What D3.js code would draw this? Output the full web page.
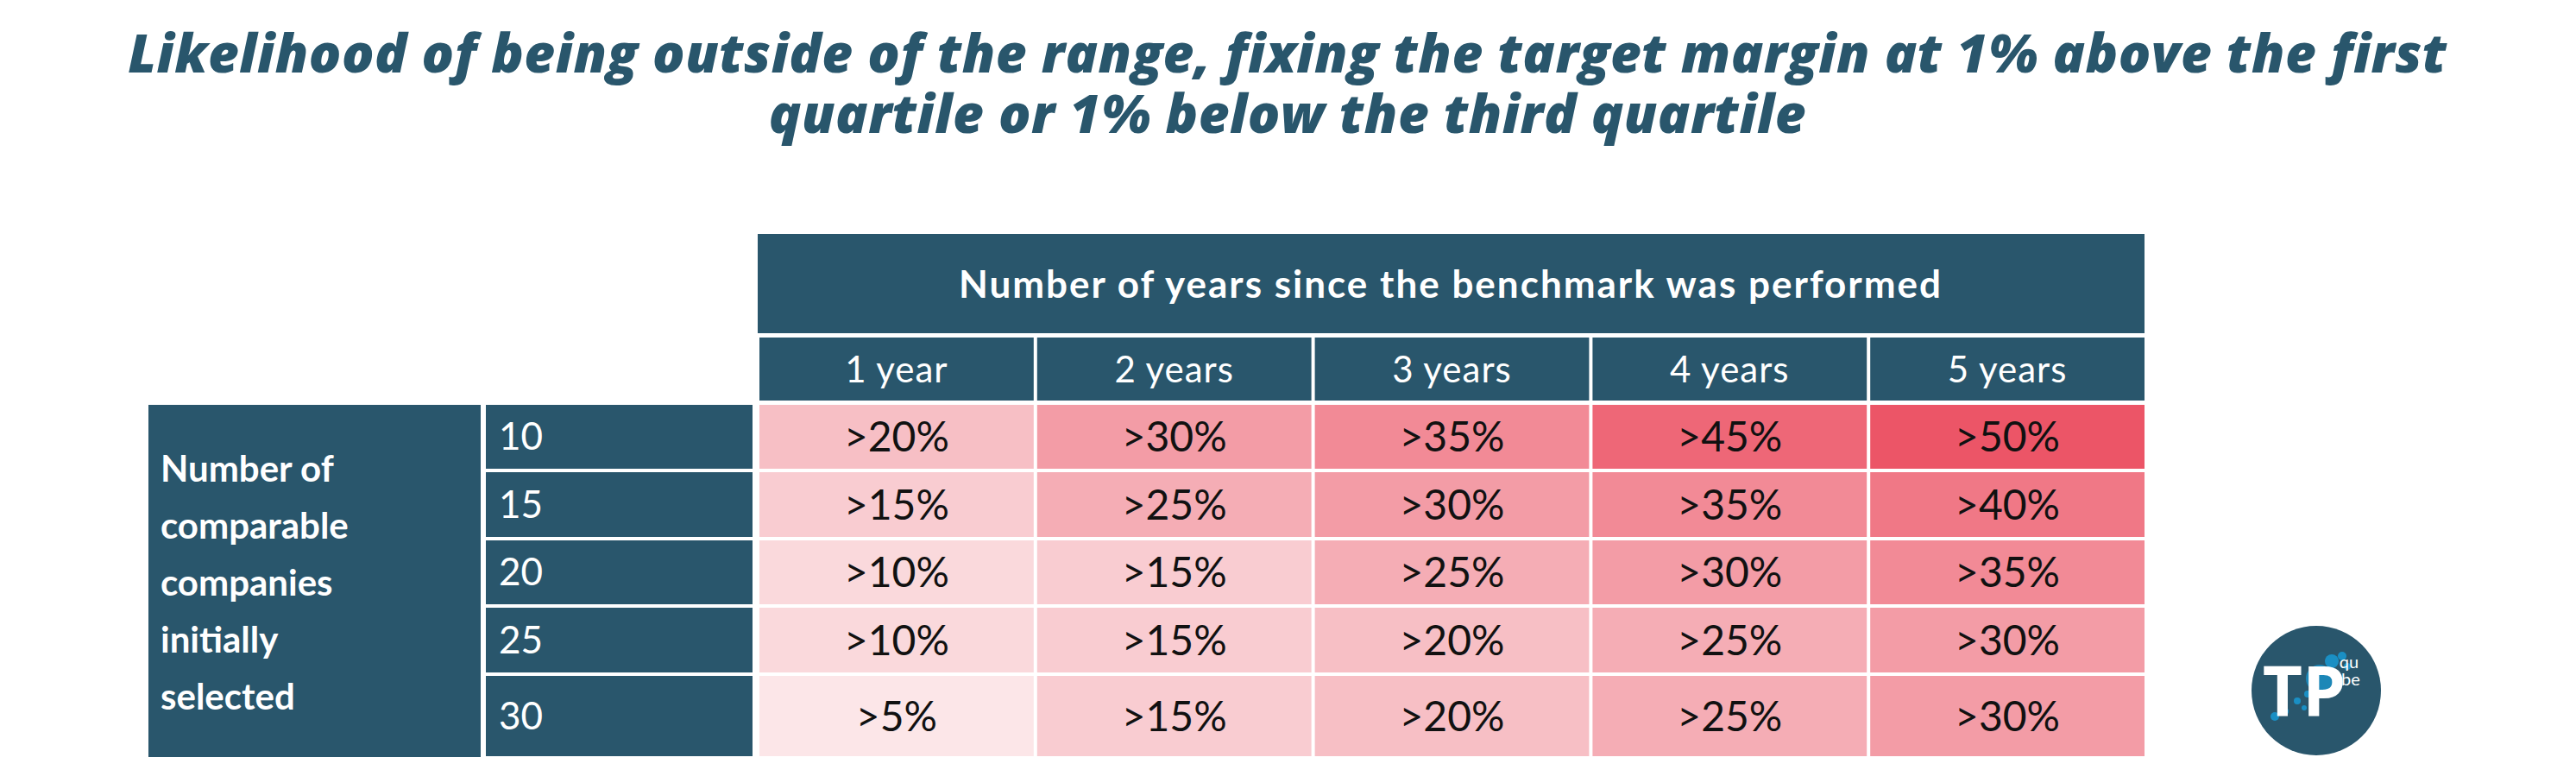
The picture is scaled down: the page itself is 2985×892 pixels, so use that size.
<!DOCTYPE html>
<html><head><meta charset="utf-8">
<script src="https://cdn.jsdelivr.net/npm/d3@7"></script>
<style>body{margin:0;background:#fff}text{font-family:"Lato","Open Sans",sans-serif}</style>
</head><body><svg id="vis" width="2985" height="892"></svg>
<script>
var years = ['1 year','2 years','3 years','4 years','5 years'];
var companies = ['10','15','20','25','30'];
var values = [
  [20,30,35,45,50],
  [15,25,30,35,40],
  [10,15,25,30,35],
  [10,15,20,25,30],
  [5,15,20,25,30]
];
var titleLines = ['Likelihood of being outside of the range, fixing the target margin at 1% above the first',
                  'quartile or 1% below the third quartile'];
var headerText = 'Number of years since the benchmark was performed';
var sideText = ['Number of','comparable','companies','initially','selected'];

var dark = '#29566c';
var svg = d3.select('#vis');

// title
svg.selectAll('text.title').data(titleLines).enter().append('text')
	.attr('x',1492).attr('y',function(d,i){ return 84 +i*70; })
	.attr('text-anchor','middle').attr('fill',dark)
	.style('font-family','"Open Sans"')
	.style('font-size','62px').style('font-weight',800).style('font-style','italic')
	.style('letter-spacing','0.5px')
	.text(function(d){ return d; });

var x = d3.scaleBand().domain(years).range([878,2487]);
var rowTops = [469,547,626,704,783,880];
var color = d3.scaleLinear().domain([5,20,50]).range(['#fce6e8','#f7bfc5','#ec5567']);

// header
svg.append('rect').attr('x',878).attr('y',271).attr('width',1607).attr('height',115).attr('fill',dark);
svg.append('text').attr('x',1681).attr('y',345).attr('text-anchor','middle').attr('fill','#fff')
	.style('font-size','44px').style('font-weight',700).style('letter-spacing','2px').text(headerText);

svg.selectAll('rect.year').data(years).enter().append('rect')
	.attr('x',function(d){ return x(d)+2; }).attr('y',391)
	.attr('width',x.bandwidth()-4).attr('height',73).attr('fill',dark);
svg.selectAll('text.year').data(years).enter().append('text')
	.attr('x',function(d){ return x(d)+x.bandwidth()/2; }).attr('y',443)
	.attr('text-anchor','middle').attr('fill','#fff').style('font-size','42px').style('letter-spacing','1px')
	.text(function(d){ return d; });

// side block
svg.append('rect').attr('x',172).attr('y',469).attr('width',385).attr('height',408).attr('fill',dark);
svg.selectAll('text.side').data(sideText).enter().append('text')
	.attr('x',186).attr('y',function(d,i){ return 558 +i*66; })
	.attr('fill','#fff').style('font-size','42px').style('font-weight',700)
	.text(function(d){ return d; });

var rows = svg.selectAll('g.row').data(values).enter().append('g');
rows.append('rect')
	.attr('x',563).attr('y',function(d,i){ return rowTops[i]; })
	.attr('width',309).attr('height',function(d,i){ return rowTops[i+1]-rowTops[i]-4; })
	.attr('fill',dark);
rows.append('text')
	.attr('x',578).attr('y',function(d,i){ return (rowTops[i]+rowTops[i+1]-4)/2 +15; })
	.attr('fill','#fff').style('font-size','44px')
	.text(function(d,i){ return companies[i]; });

rows.each(function(r,i){
	var g = d3.select(this);
	var cells = g.selectAll('g.cell').data(r).enter().append('g');
	cells.append('rect')
		.attr('x',function(d,j){ return x(years[j])+2; }).attr('y',rowTops[i])
		.attr('width',x.bandwidth()-4).attr('height',rowTops[i+1]-rowTops[i]-4)
		.attr('fill',function(d){ return color(d); });
	cells.append('text')
		.attr('x',function(d,j){ return x(years[j])+x.bandwidth()/2; })
		.attr('y',(rowTops[i]+rowTops[i+1]-4)/2 +17)
		.attr('text-anchor','middle').attr('fill','#111').style('font-size','48px')
		.text(function(d){ return '>'+d+'%'; });
});

// logo
var logo = svg.append('g').attr('transform','translate(2684,800)');
logo.append('circle').attr('r',75).attr('fill',dark);
[[-48,30,5],[-36,24,4],[-22,12,4],[-10,4,4],[-14,20,3],[30,-40,5],[36,-28,4],[-2,-6,3]].forEach(function(p){
	logo.append('circle').attr('cx',p[0]).attr('cy',p[1]).attr('r',p[2]).attr('fill','#1a8fc4');
});
logo.append('circle').attr('cx',4).attr('cy',-14).attr('r',16).attr('fill','#1a8fc4').attr('opacity',0.85);
logo.append('circle').attr('cx',18).attr('cy',-34).attr('r',8).attr('fill','#1a8fc4');
logo.append('text').attr('x',-14).attr('y',30).attr('text-anchor','middle').attr('fill','#fff')
	.style('font-family','"Open Sans"').style('font-size','80px').style('font-weight',700).text('TP');
logo.append('text').attr('x',38).attr('y',-26).attr('text-anchor','middle').attr('fill','#fff').style('font-size','20px').text('qu');
logo.append('text').attr('x',40).attr('y',-6).attr('text-anchor','middle').attr('fill','#fff').style('font-size','20px').text('be');
</script></body></html>
